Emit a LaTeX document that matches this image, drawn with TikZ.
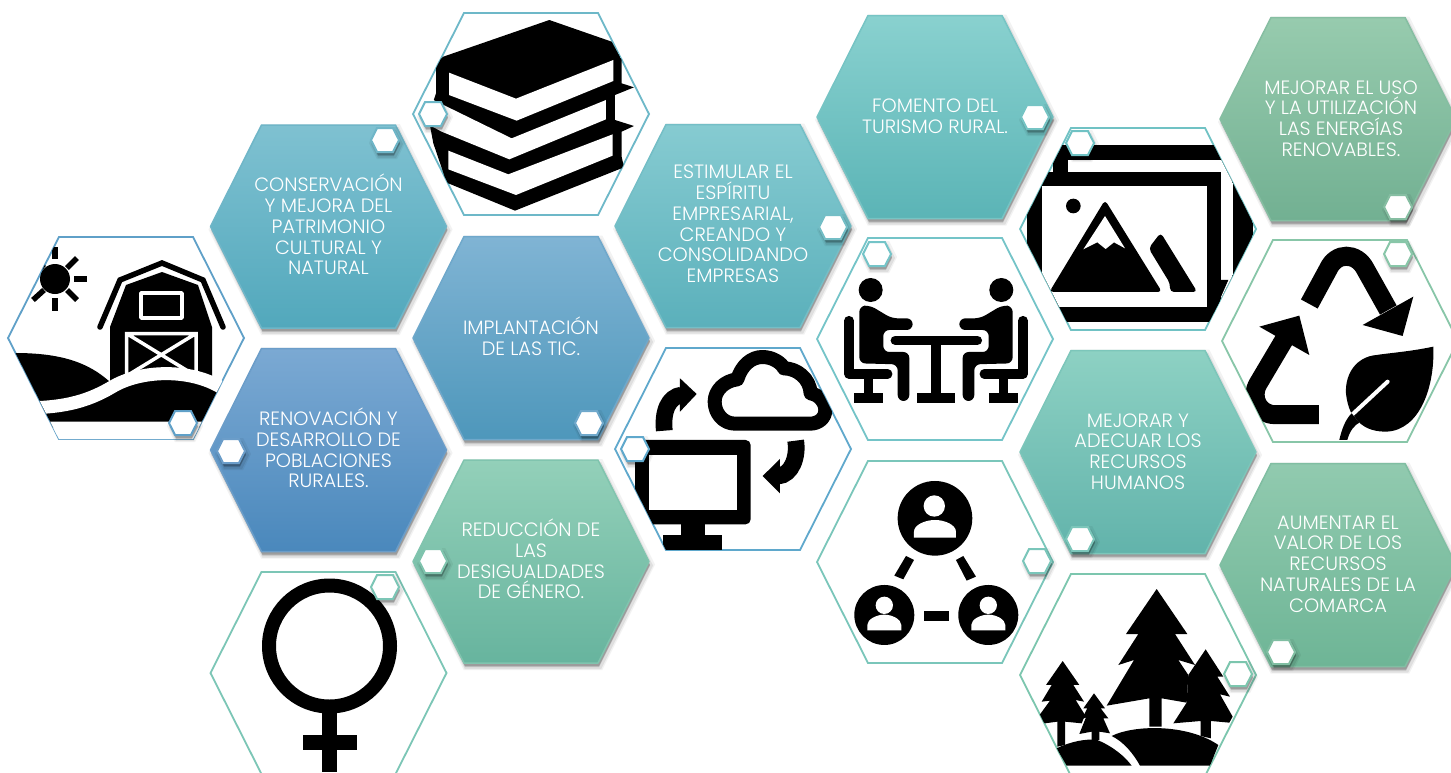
\documentclass[tikz,border=0pt]{standalone}
\usepackage{fontspec}
\setmainfont{Poppins}[UprightFont=* Light]
\newcommand\hexP[4]{({#1-#3},{#2}) -- ({#1-.568*#3},{#2-#4}) -- ({#1+.568*#3},{#2-#4}) -- ({#1+#3},{#2}) -- ({#1+.568*#3},{#2+#4}) -- ({#1-.568*#3},{#2+#4}) -- cycle}
\newcommand\softshadow[4]{%
  \fill[black,opacity=.05] \hexP{(#1+2)}{(#2+3)}{(#3+4)}{(#4+4)};
  \fill[black,opacity=.08] \hexP{(#1+2)}{(#2+4)}{(#3+2)}{(#4+2)};
  \fill[black,opacity=.14] \hexP{(#1+1)}{(#2+4)}{#3}{#4};
  \fill[black,opacity=.18] \hexP{(#1+1)}{(#2+3)}{#3}{#4};}
\newcommand\bighex[5]{% cx cy top bottom border
  \definecolor{hT}{HTML}{#3}\definecolor{hB}{HTML}{#4}\definecolor{hD}{HTML}{#5}%
  \softshadow{#1}{#2}{118}{101.5}
  \shade[top color=hT,bottom color=hB,draw=hD,line width=1.5pt,line join=round] \hexP{#1}{#2}{118}{101.5};}
\newcommand\smallhex[3]{% cx cy border
  \softshadow{#1}{#2}{14}{12}
  \draw[fill=white,draw=#3,line width=2pt] \hexP{#1}{#2}{14}{12};}
\newcommand\outlinehex[3]{\draw[fill=white,draw=#3,line width=1.8pt] \hexP{#1}{#2}{118}{101};}
\definecolor{cBarn}{HTML}{5FA0C8}
\definecolor{cBook}{HTML}{6DB8C8}
\definecolor{cCloud}{HTML}{5FA8CC}
\definecolor{cFem}{HTML}{7CC6B6}
\definecolor{cLand}{HTML}{70C2C4}
\definecolor{cMeet}{HTML}{74C4C8}
\definecolor{cNet}{HTML}{7AC6BA}
\definecolor{cFor}{HTML}{7CC6AE}
\definecolor{cRec}{HTML}{88C6A8}
\definecolor{cA}{HTML}{6FB6C8}
\definecolor{cB}{HTML}{6FA8CB}
\definecolor{cC}{HTML}{6B9DC9}
\definecolor{cD}{HTML}{80C4AE}
\definecolor{cE}{HTML}{74BEC6}
\definecolor{cF}{HTML}{76C4C4}
\definecolor{cG}{HTML}{7CC6BA}
\definecolor{cH}{HTML}{86BEA2}
\definecolor{cI}{HTML}{80BEA2}
\tikzset{
  hextext/.style={text=white,align=center,font=\fontsize{19.3}{20.8}\selectfont,inner sep=0pt},
  zoomed/.style={scale=0.3333},
}
\begin{document}
\begin{tikzpicture}[x=1pt,y=-1pt,line join=miter]
\clip (0,0) rectangle (1451,772);
\fill[white] (0,0) rectangle (1451,772);
% filled hexagons
\bighex{328.5}{226.5}{7FC1D1}{52A8BC}{6FB6C8}
\bighex{531}{338}{80B4D4}{4E97BB}{6FA8CB}
\bighex{328.5}{450}{7BA9D3}{4A88BC}{6B9DC9}
\bighex{531}{561.5}{93D0B9}{67B49E}{80C4AE}
\bighex{733}{226}{86CBD1}{5BB0BB}{74BEC6}
\bighex{935}{117}{89D1CF}{5BB4B6}{76C4C4}
\bighex{1138}{452}{8DD1C3}{62B3AB}{7CC6BA}
\bighex{1338}{119}{97CBAE}{72B092}{86BEA2}
\bighex{1338}{565}{91CAAF}{6EB596}{80BEA2}
% barn
\outlinehex{126}{338}{cBarn}
\begin{scope}
\clip \hexP{126}{338}{118}{101};
\fill (55,279) circle (15);
\begin{scope}[line width=5.5pt]
\draw (55,247) -- (55,259);
\draw (74,279) -- (87,279);
\draw (55,298) -- (55,311);
\draw (67,268) -- (77,258);
\draw (67,290) -- (77,300);
\draw (44,290) -- (33,300);
\draw (44,268) -- (33,258);
\end{scope}
\fill (110,385) -- (110,327) -- (126,285) -- (162,272) -- (198,285) -- (212,327) -- (212,385) -- cycle;
\draw[line width=5.5pt,line cap=round,line join=miter] (100,327) -- (120,280) -- (162,263) -- (203,280) -- (223,327);
\draw[white,line width=3.5pt,line join=round] (141,293) rectangle (182,318);
\draw[white,line width=3.5pt] (126.5,333.5) rectangle (196,376) (126.5,333.5) -- (196,376) (196,333.5) -- (126.5,376);
\fill (15,353) .. controls (60,353) and (88,362) .. (110,382) -- (110,412) -- (15,412) -- cycle;
\fill[draw=white,line width=13pt] (20,408) .. controls (60,408) and (85,403) .. (112,387) .. controls (140,370) and (190,368) .. (222,388) -- (240,388) -- (240,428) -- (20,428) -- cycle;
\fill[white] (0,428) rectangle (260,445);
\end{scope}
% books
\outlinehex{531}{114}{cBook}
\begin{scope}
\clip \hexP{531}{114}{118}{101};
\begin{scope}[shift={(400,0)},zoomed]
\fill (448,60) -- (635,125) -- (665,180) -- (665,250) -- (702,262) -- (645,285) -- (645,360) -- (702,378) -- (665,395) -- (665,470) -- (672,502) -- (345,632) -- (140,548) -- (100,430) -- (85,350) -- (108,280) -- (108,190) -- (130,170) -- cycle;
\fill[white] (147,218) -- (348,296) -- (640,180) -- (640,243) -- (350,362) -- (147,285) -- cycle;
\fill[white] (100,300) -- (335,415) -- (618,300) -- (618,358) -- (328,478) -- (125,395) -- (60,360) -- cycle;
\fill[white] (145,452) -- (325,523) -- (638,403) -- (638,467) -- (348,585) -- (145,508) -- cycle;
\end{scope}
\end{scope}
% female
\outlinehex{328.5}{673}{cFem}
\begin{scope}
\clip \hexP{328.5}{673}{118}{101};
\draw[line width=14pt] (329.5,646) circle (60.5);
\fill (322,708) rectangle (337,772);
\fill (303,735) rectangle (357,750);
\end{scope}
% cloud
\outlinehex{733}{449}{cCloud}
\begin{scope}
\clip \hexP{733}{449}{118}{101};
\begin{scope}[shift={(600,340)},zoomed]
\fill[rounded corners=5pt] (105,300) rectangle (452,553);
\fill[white] (148,345) rectangle (410,510);
\fill (243,550) rectangle (315,585);
\fill (190,585) rectangle (366,630);
\draw[fill=white,line width=14pt,line join=round] (405,251) .. controls (370,251) and (344,220) .. (344,185) .. controls (344,150) and (375,122) .. (412,118) .. controls (425,75) and (455,51) .. (487,51) .. controls (520,51) and (545,70) .. (552,85) .. controls (590,85) and (630,115) .. (632,160) .. controls (660,165) and (676,190) .. (676,210) .. controls (676,235) and (655,251) .. (630,251) -- cycle;
\draw[line width=16.7pt] (193,272) .. controls (187,215) and (205,170) .. (245,165);
\fill (240,115) -- (290,162) -- (240,215) -- cycle;
\draw[line width=16.7pt] (587,302) .. controls (595,350) and (575,405) .. (535,408);
\fill (540,357) -- (488,408) -- (540,460) -- cycle;
\end{scope}
\end{scope}
% meeting
\outlinehex{935}{339}{cMeet}
\begin{scope}
\clip \hexP{935}{339}{118}{101};
\begin{scope}[shift={(820,230)},zoomed]
\fill (152,180) circle (36);
\fill (544,180) circle (36);
\begin{scope}
\draw[line width=9.5pt,line cap=round,line join=round] (87,272) -- (87,432) -- (203,432);
\fill (131,445) rectangle (160,490);
\fill (102,490) rectangle (189,520);
\fill[rounded corners=6pt] (118,400) -- (118,228) -- (150,226) -- (215,265) -- (278,265) -- (278,300) -- (190,300) -- (190,366) -- (268,366) -- (268,513) -- (233,513) -- (233,403) -- cycle;
\end{scope}
\begin{scope}[shift={(696,0)},xscale=-1]
\draw[line width=9.5pt,line cap=round,line join=round] (87,272) -- (87,432) -- (203,432);
\fill (131,445) rectangle (160,490);
\fill (102,490) rectangle (189,520);
\fill[rounded corners=6pt] (118,400) -- (118,228) -- (150,226) -- (215,265) -- (278,265) -- (278,300) -- (190,300) -- (190,366) -- (268,366) -- (268,513) -- (233,513) -- (233,403) -- cycle;
\end{scope}
\draw[line width=9.5pt,line cap=round] (226,331) -- (472,331);
\fill (333,331) rectangle (362,490);
\fill (291,490) rectangle (406,520);
\end{scope}
\end{scope}
% network
\outlinehex{935}{562}{cNet}
\begin{scope}
\clip \hexP{935}{562}{118}{101};
\begin{scope}[shift={(600,340)},zoomed]
\fill (1005,535) circle (112);
\fill (853,825) circle (90);
\fill (1165,825) circle (90);
\fill[white] (1003,498) circle (32);
\fill[white] (942,593) -- (942,575) .. controls (942,555) and (975,540) .. (1005,540) .. controls (1035,540) and (1068,555) .. (1068,575) -- (1068,593) -- cycle;
\fill[white] (853,796) circle (26);
\fill[white] (802,871) -- (802,855) .. controls (802,838) and (830,824) .. (853,824) .. controls (876,824) and (904,838) .. (904,855) -- (904,871) -- cycle;
\fill[white] (1165,796) circle (26);
\fill[white] (1114,871) -- (1114,855) .. controls (1114,838) and (1142,824) .. (1165,824) .. controls (1188,824) and (1216,838) .. (1216,855) -- (1216,871) -- cycle;
\fill (918,648) -- (942,660) -- (910,718) -- (883,707) -- cycle;
\fill (1090,648) -- (1068,660) -- (1100,722) -- (1128,710) -- cycle;
\fill (972,814) rectangle (1046,843);
\end{scope}
\end{scope}
% landscape
\outlinehex{1138}{229}{cLand}
\begin{scope}
\clip \hexP{1138}{229}{118}{101};
\begin{scope}[shift={(1010,120)},zoomed]
\fill (130,75) rectangle (730,600);
\fill[white] (175,120) rectangle (668,480);
\fill[white] (632,480) rectangle (730,640);
\fill (632,480) -- (655,480) -- (620,560) -- (632,560) -- cycle;
\fill (50,155) rectangle (632,605);
\fill[white] (95,198) rectangle (590,560);
\fill (190,258) circle (22);
\fill[rounded corners=4pt] (285,240) -- (456,516) -- (118,516) -- cycle;
\fill[white] (285,288) -- (345,385) -- (312,367) -- (287,387) -- (262,367) -- (220,388) -- cycle;
\fill[rounded corners=4pt] (452,338) -- (562,516) -- (480,516) -- (480,490) -- (416,385) -- cycle;
\end{scope}
\end{scope}
% recycle
\outlinehex{1340}{341}{cRec}
\begin{scope}
\clip \hexP{1340}{341}{118}{101};
\begin{scope}[shift={(1010,120)},zoomed]
\draw[line width=19pt] (898,552) -- (955,447) .. controls (978,396) and (1040,396) .. (1066,447) -- (1135,570);
\fill (1210,530) -- (1178,648) -- (1058,615) -- cycle;
\draw[line width=19pt] (927,884) -- (795,884) .. controls (745,884) and (720,830) .. (745,790) -- (825,655);
\fill (868,587) -- (748,620) -- (898,705) -- cycle;
\fill (1270,680) .. controls (1200,695) and (1130,700) .. (1100,705) .. controls (1040,710) and (1005,760) .. (1008,820) .. controls (1010,840) and (1015,860) .. (1022,875) -- (1045,905) .. controls (1070,930) and (1100,935) .. (1130,935) .. controls (1230,930) and (1275,800) .. (1270,680) -- cycle;
\draw[white,line width=4pt,line cap=round] (1133,785) -- (1020,890);
\fill (988,960) -- (1012,960) .. controls (1020,930) and (1035,915) .. (1048,908) -- (1025,880) .. controls (1005,900) and (995,930) .. (988,960) -- cycle;
\end{scope}
\end{scope}
% forest
\outlinehex{1138}{675}{cFor}
\begin{scope}
\clip \hexP{1138}{675}{118}{101};
\begin{scope}[shift={(1010,560)},zoomed]
\fill (440,87) -- (348,222) -- (385,222) -- (325,315) -- (372,300) -- (290,437) -- (418,415) -- (418,500) -- (455,500) -- (455,415) -- (530,428) -- (535,345) -- (505,300) -- (555,315) -- (495,222) -- (532,222) -- cycle;
\fill (587,268) -- (535,345) -- (530,428) -- (490,490) -- (572,483) -- (572,528) -- (603,535) -- (603,483) -- (658,488) -- (668,470) -- (630,403) -- (660,410) -- (622,350) -- (640,350) -- cycle;
\fill (158,303) -- (108,375) -- (125,375) -- (95,425) -- (120,422) -- (85,470) -- (105,490) -- (142,485) -- (142,560) -- (165,555) -- (165,485) -- (215,490) -- (225,465) -- (197,420) -- (222,425) -- (190,375) -- (208,375) -- cycle;
\fill (252,400) -- (220,445) -- (232,445) -- (215,478) -- (228,472) -- (208,522) -- (245,515) -- (245,540) -- (268,540) -- (268,515) -- (300,520) -- (280,475) -- (295,475) -- (272,445) -- (285,445) -- cycle;
\fill (305,528) .. controls (370,495) and (530,490) .. (625,555) -- (600,617) -- (390,617) .. controls (370,580) and (340,545) .. (305,528) -- cycle;
\fill (140,565) .. controls (180,545) and (230,535) .. (262,540) .. controls (310,560) and (345,590) .. (365,617) -- (170,617) -- cycle;
\end{scope}
\end{scope}
% texts
\node[hextext] (tConserv) at (328.5,224.5) {CONSERVACIÓN\\Y MEJORA DEL\\PATRIMONIO\\CULTURAL Y\\NATURAL};
\node[hextext] (tImpl) at (531,336) {IMPLANTACIÓN\\DE LAS TIC.};
\node[hextext] (tRenov) at (328.5,448) {RENOVACIÓN Y\\DESARROLLO DE\\POBLACIONES\\RURALES.};
\node[hextext] (tReduc) at (531,559) {REDUCCIÓN DE\\LAS\\DESIGUALDADES\\DE GÉNERO.};
\node[hextext] (tEstim) at (733,224) {ESTIMULAR EL\\ESPÍRITU\\EMPRESARIAL,\\CREANDO Y\\CONSOLIDANDO\\EMPRESAS};
\node[hextext] (tFoment) at (935,116) {FOMENTO DEL\\TURISMO RURAL.};
\node[hextext] (tUso) at (1341,118.5) {MEJORAR EL USO\\Y LA UTILIZACIÓN\\LAS ENERGÍAS\\RENOVABLES.};
\node[hextext] (tAdec) at (1138,451.5) {MEJORAR Y\\ADECUAR LOS\\RECURSOS\\HUMANOS};
\node[hextext] (tAument) at (1338,564) {AUMENTAR EL\\VALOR DE LOS\\RECURSOS\\NATURALES DE LA\\COMARCA};
% small hexagons
\smallhex{183}{423}{cBarn}
\smallhex{385}{140}{cA}
\smallhex{433}{114}{cBook}
\smallhex{589}{423}{cB}
\smallhex{231}{451}{cC}
\smallhex{433}{561}{cD}
\smallhex{385}{587}{cFem}
\smallhex{833}{227}{cE}
\smallhex{635}{449}{cCloud}
\smallhex{1035}{117}{cF}
\smallhex{877}{254}{cMeet}
\smallhex{1037}{561}{cNet}
\smallhex{1080}{143}{cLand}
\smallhex{1080}{539}{cG}
\smallhex{1238}{674}{cFor}
\smallhex{1398}{207}{cH}
\smallhex{1398}{254}{cRec}
\smallhex{1281}{652}{cI}
\end{tikzpicture}
\end{document}
